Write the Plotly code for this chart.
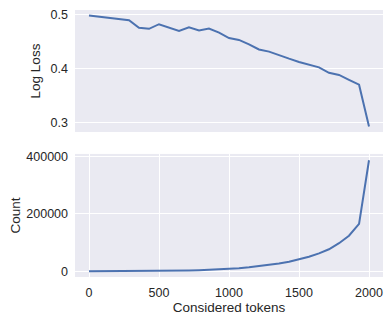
import plotly.graph_objs as go
from plotly.subplots import make_subplots

# considered tokens (shared x for both panels)
tokens = [0, 71, 143, 214, 286, 357, 429, 500, 571, 643, 714, 786, 857, 929,
          1000, 1071, 1143, 1214, 1286, 1357, 1429, 1500, 1571, 1643, 1714,
          1786, 1857, 1929, 2000]

# top panel: log loss
log_loss = [0.4975, 0.4954, 0.4933, 0.4911, 0.489, 0.475, 0.473, 0.4815,
            0.475, 0.469, 0.476, 0.470, 0.4735, 0.466, 0.456, 0.4525, 0.4445,
            0.435, 0.431, 0.424, 0.418, 0.412, 0.407, 0.402, 0.392, 0.388,
            0.379, 0.370, 0.293]

# bottom panel: count
count = [0, 20, 60, 120, 250, 400, 650, 1000, 1400, 2000, 2800, 3800, 5000,
         6600, 8500, 10800, 13800, 17600, 21200, 27000, 33000, 41000, 50500,
         62300, 76400, 97500, 123500, 164700, 386000]

line_color = "#4C72B0"
bg = "#EAEAF2"
text_color = "#262626"
font_family = "Liberation Sans, Arial, sans-serif"

fig = make_subplots(rows=2, cols=1)

fig.add_trace(go.Scatter(x=tokens, y=log_loss, mode="lines",
                         line=dict(color=line_color, width=2)), row=1, col=1)
fig.add_trace(go.Scatter(x=tokens, y=count, mode="lines",
                         line=dict(color=line_color, width=2)), row=2, col=1)

axis_common = dict(showline=False, zeroline=False, gridcolor="white",
                   gridwidth=1, ticks="", automargin=False,
                   ticklabeloverflow="allow", ticklabelstandoff=6,
                   tickfont=dict(size=12.5, color=text_color, family=font_family))

# the page body adds an 8px margin, so the figure is a bit smaller and shifted
fig.update_layout(
    width=384, height=307,
    margin=dict(l=67, r=9, t=2, b=38),
    paper_bgcolor="white",
    plot_bgcolor=bg,
    showlegend=False,
    font=dict(family=font_family, color=text_color),
    xaxis=dict(axis_common, domain=[0, 1], range=[-100, 2100], showgrid=False,
               showticklabels=False, tickvals=[0, 500, 1000, 1500, 2000]),
    yaxis=dict(axis_common, domain=[0.543, 1], range=[0.2828, 0.5077],
               tickvals=[0.3, 0.4, 0.5], ticktext=["0.3", "0.4", "0.5"],
               title=dict(text="Log Loss", font=dict(size=13.5), standoff=6)),
    xaxis2=dict(axis_common, domain=[0, 1], range=[-100, 2100], showgrid=True,
                tickvals=[0, 500, 1000, 1500, 2000],
                title=dict(text="Considered tokens", font=dict(size=13.5), standoff=6)),
    yaxis2=dict(axis_common, domain=[0, 0.461], range=[-20000, 408000],
                tickvals=[0, 200000, 400000],
                ticktext=["0", "200000", "400000"],
                title=dict(text="Count", font=dict(size=13.5), standoff=7)),
)

fig.write_html("out.html")
